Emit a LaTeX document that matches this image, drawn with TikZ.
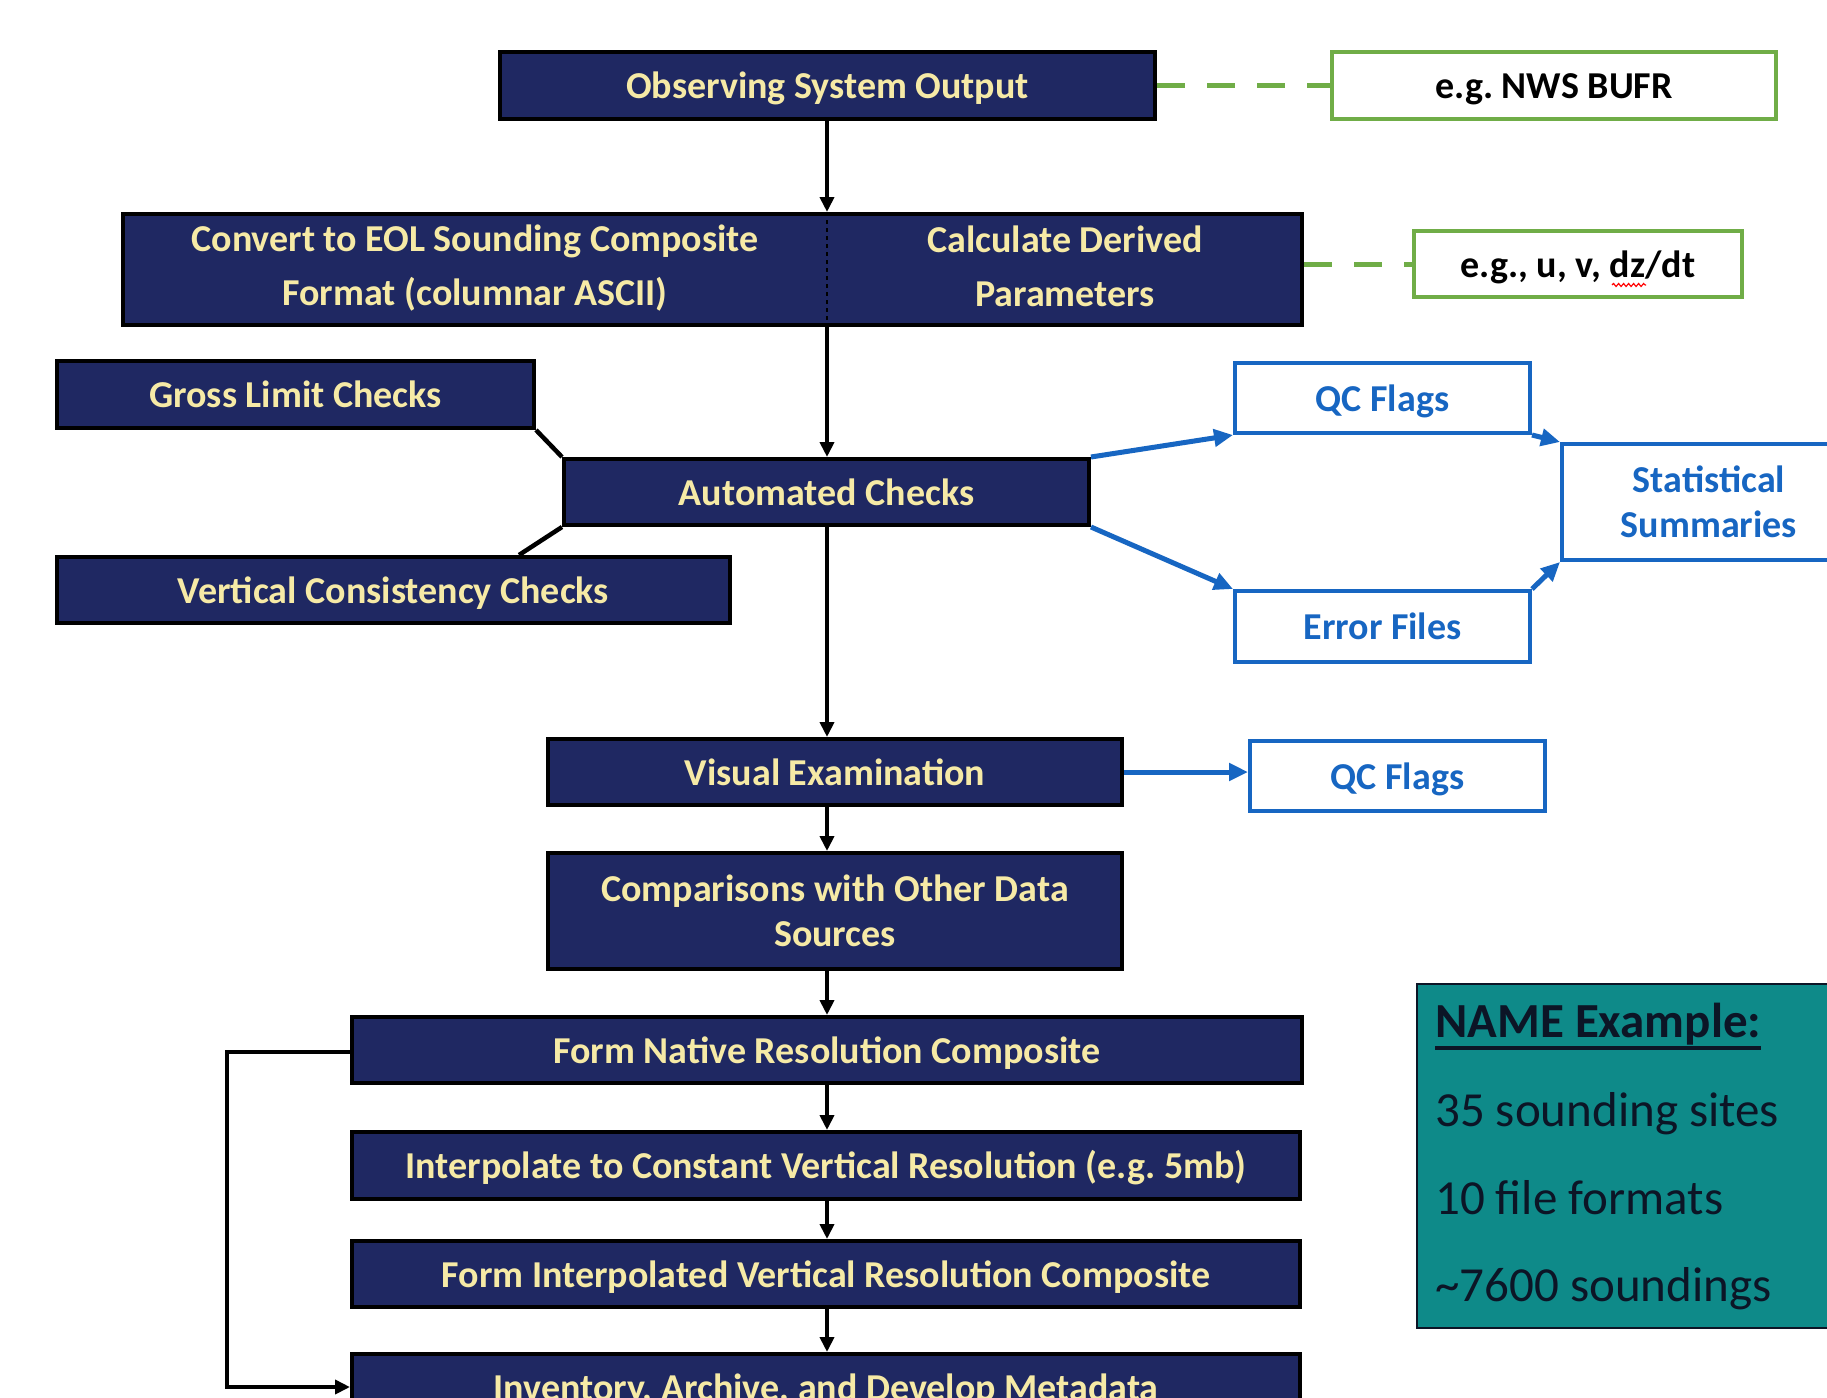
\documentclass[tikz,border=0pt]{standalone}
\usepackage{fontspec}
\setmainfont{Carlito}
\usetikzlibrary{arrows.meta,calc,decorations.pathmorphing}
\definecolor{navy}{HTML}{1F2862}
\definecolor{cream}{HTML}{F6EAA6}
\definecolor{qblue}{HTML}{1766C2}
\definecolor{qgreen}{HTML}{70AD47}
\definecolor{tealbox}{HTML}{0E8A89}
\definecolor{ink}{HTML}{0C1526}
\frenchspacing
\tikzset{
  boxfont/.style={font=\bfseries\fontsize{38pt}{45pt}\selectfont},
  oneline/.style={text height=26pt, text depth=0pt},
  nb/.style={draw=black, line width=4pt, fill=navy, text=cream, boxfont, inner sep=0pt, align=center},
  bb/.style={draw=qblue, line width=4pt, fill=white, text=qblue, boxfont, inner sep=0pt, align=center},
  gb/.style={draw=qgreen, line width=4pt, fill=white, text=black, boxfont, inner sep=0pt, align=center},
  blk/.style={draw=black, line width=4pt, -{Triangle[length=15pt,width=14pt]}},
  bline/.style={draw=black, line width=4.5pt},
  blu/.style={draw=qblue, line width=5pt, -{Triangle[length=19pt,width=17pt]}},
  gdash/.style={draw=qgreen, line width=5pt, dash pattern=on 28pt off 22pt},
  nmtxt/.style={anchor=base west, inner sep=0pt, text=ink, font=\fontsize{49pt}{58pt}\selectfont}
}
\begin{document}
\begin{tikzpicture}[x=1pt,y=-1pt]
\useasboundingbox (0,0) rectangle (1827,1397);
\clip (0,0) rectangle (1827,1397);
\fill[white] (0,0) rectangle (1827,1397);

% main column
\node[nb, oneline, minimum width=655pt, minimum height=67pt] (obs) at (827.5,85.5) {Observing System Output};
\node[nb, minimum width=1179pt, minimum height=111pt] (conv) at (712.5,269.5) {};
\node[text=cream, inner sep=0pt, align=center, font=\bfseries\fontsize{38pt}{54pt}\selectfont] (convL) at (475,268) {Convert to EOL Sounding Composite\\Format (columnar ASCII)};
\node[text=cream, inner sep=0pt, align=center, font=\bfseries\fontsize{38pt}{54pt}\selectfont] (convR) at (1065,266) {Calculate Derived\\Parameters};
\coordinate (spine) at (827,0);
\draw[black, line width=2.5pt, dash pattern=on 4pt off 4pt] (conv.north -| spine) -- (conv.south -| spine);

\node[nb, oneline, minimum width=477pt, minimum height=67pt] (gross) at (295.5,394.5) {Gross Limit Checks};
\node[nb, oneline, minimum width=525pt, minimum height=66pt] (auto) at (826.5,492) {Automated Checks};
\node[nb, oneline, minimum width=673pt, minimum height=66pt] (vert) at (393.5,590) {Vertical Consistency Checks};
\coordinate (vx) at (519,0);

\node[nb, oneline, minimum width=574pt, minimum height=66pt] (ve) at (835,772) {Visual Examination};
\node[nb, minimum width=574pt, minimum height=116pt] (comp) at (835,911) {Comparisons with Other Data\\Sources};
\node[nb, oneline, minimum width=950pt, minimum height=66pt] (native) at (827,1050) {Form Native Resolution Composite};
\node[nb, oneline, minimum width=948pt, minimum height=67pt] (interp) at (826,1165.5) {Interpolate to Constant Vertical Resolution (e.g. 5mb)};
\node[nb, oneline, minimum width=948pt, minimum height=66pt] (finterp) at (826,1274) {Form Interpolated Vertical Resolution Composite};
\node[nb, oneline, minimum width=948pt, minimum height=66pt] (inv) at (826,1387) {Inventory, Archive, and Develop Metadata};

% green example boxes
\node[gb, oneline, minimum width=444pt, minimum height=67pt] (eg1) at (1554,85.5) {e.g. NWS BUFR};
\node[gb, oneline, minimum width=328pt, minimum height=66pt] (eg2) at (1578,264) {e.g., u, v, dz/dt};
\coordinate (wv1) at (1612,285);
\coordinate (wv2) at (1646,285);
\draw[red, line width=1.2pt, decorate, decoration={snake, amplitude=1.5pt, segment length=5pt}] (wv1) -- (wv2);

% blue boxes
\node[bb, oneline, minimum width=295pt, minimum height=70pt] (qc1) at (1382.5,398) {QC Flags};
\node[bb, oneline, minimum width=295pt, minimum height=71pt] (err) at (1382.5,626.5) {Error Files};
\node[bb, minimum width=294pt, minimum height=116pt] (stat) at (1709,502) {Statistical\\Summaries};
\node[bb, oneline, minimum width=295pt, minimum height=70pt] (qc2) at (1397.5,776) {QC Flags};

% NAME example box
\node[draw=ink, line width=2pt, fill=tealbox, minimum width=440pt, minimum height=344pt, inner sep=0pt] (namebox) at (1637,1156) {};
\node[nmtxt, font=\bfseries\fontsize{49pt}{58pt}\selectfont] (nm0) at (1435,1037) {NAME Example:};
\draw[ink, line width=3.5pt] ([yshift=-11pt]nm0.base west) -- ([yshift=-11pt]nm0.base east);
\node[nmtxt] (nm1) at (1435,1126) {35 sounding sites};
\node[nmtxt] (nm2) at (1435,1214) {10 file formats};
\node[nmtxt] (nm3) at (1435,1301) {\textasciitilde 7600 soundings};

% black connectors
\draw[blk] (obs.south -| spine) -- (conv.north -| spine);
\draw[blk] (conv.south -| spine) -- (auto.north -| spine);
\draw[blk] (auto.south -| spine) -- (ve.north -| spine);
\draw[blk] (ve.south -| spine) -- (comp.north -| spine);
\draw[blk] (comp.south -| spine) -- (native.north -| spine);
\draw[blk] (native.south -| spine) -- (interp.north -| spine);
\draw[blk] (interp.south -| spine) -- (finterp.north -| spine);
\draw[blk] (finterp.south -| spine) -- (inv.north -| spine);
\draw[bline] (gross.south east) -- (auto.north west);
\draw[bline] (auto.south west) -- (vert.north -| vx);
\draw[blk] ([yshift=-2pt]native.west) -- ++(-123,0) |- (inv.west);

% blue connectors
\draw[blu] (auto.north east) -- (qc1.south west);
\draw[blu] (auto.south east) -- (err.north west);
\draw[blu] (qc1.south east) -- (stat.north west);
\draw[blu] (err.north east) -- (stat.south west);
\draw[blu] (ve.east) -- (ve.east -| qc2.west);

% green dashed
\draw[gdash] (obs.east) -- (eg1.west);
\draw[gdash] (eg2.west -| conv.east) -- (eg2.west);
\end{tikzpicture}
\end{document}
